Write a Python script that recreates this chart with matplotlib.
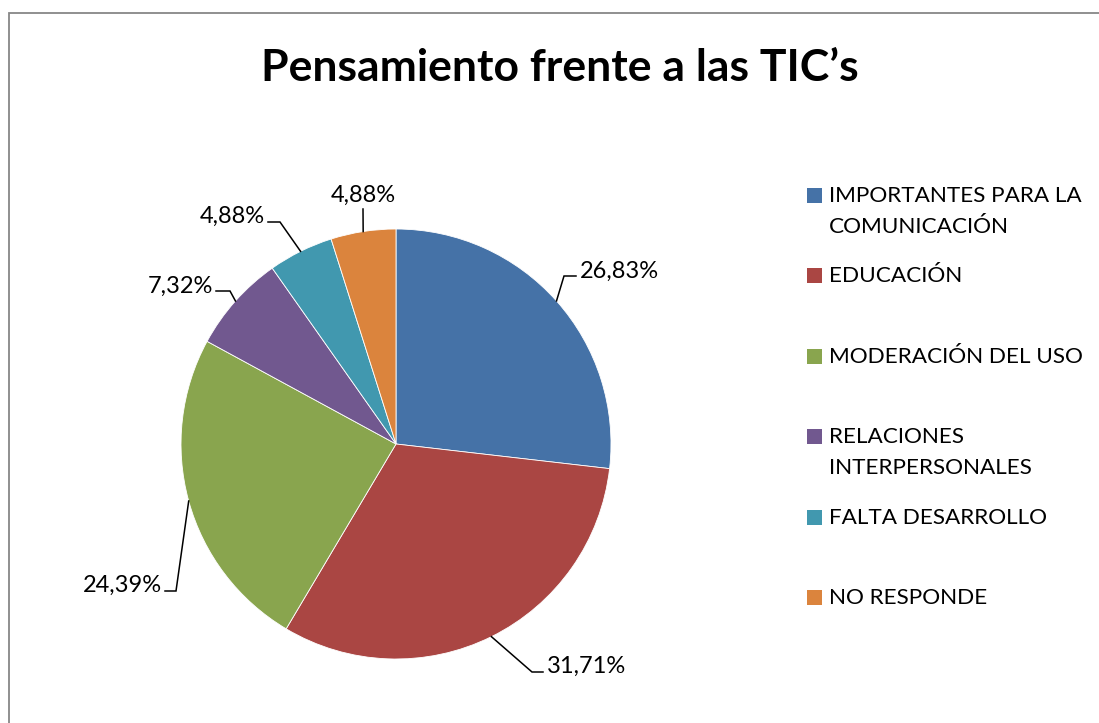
import matplotlib
matplotlib.use("Agg")
import matplotlib.pyplot as plt
from matplotlib.patches import Rectangle
import numpy as np

# data
categorias = ["IMPORTANTES PARA LA\nCOMUNICACIÓN", "EDUCACIÓN", "MODERACIÓN DEL USO",
              "RELACIONES\nINTERPERSONALES", "FALTA DESARROLLO", "NO RESPONDE"]
porcentajes = [26.83, 31.71, 24.39, 7.32, 4.88, 4.88]
colores = ["#4572A7", "#AA4643", "#89A54E", "#71588F", "#4198AF", "#DB843D"]

plt.rcParams['font.family'] = ['Lato', 'DejaVu Sans']

W, H = 1099, 723
fig = plt.figure(figsize=(W / 100, H / 100), dpi=100)

# pie geometry in pixels (center, radius)
cx, cy, R = 396, 444, 215
ax = fig.add_axes([(cx - R) / W, (H - cy - R) / H, 2 * R / W, 2 * R / H])
ax.axis('off')

wedges, _ = ax.pie(porcentajes, colors=colores, startangle=90, counterclock=False,
                   radius=1, center=(0, 0), frame=False,
                   wedgeprops=dict(linewidth=0.6, edgecolor='white'))
ax.set_xlim(-1, 1)
ax.set_ylim(-1, 1)

def px(x, y):
    return (x - cx) / R, (cy - y) / R

# label layout: elbow, stub end, text anchor (pixels), alignment
layout = [
    ((564, 276), (576, 276), (580, 271), 'left', 'center'),
    ((532, 672), (543, 672), (547, 666), 'left', 'center'),
    ((176, 591), (165, 591), (162, 585), 'right', 'center'),
    ((230, 291), (216, 291), (213, 286), 'right', 'center'),
    ((280, 222), (268, 222), (265, 216), 'right', 'center'),
    ((363, 209), (363, 209), (363, 206), 'center', 'bottom'),
]

for w, p, (elb, stub, txt, ha, va) in zip(wedges, porcentajes, layout):
    ang = np.deg2rad((w.theta1 + w.theta2) / 2)
    x0, y0 = np.cos(ang), np.sin(ang)
    ex, ey = px(*elb)
    sx, sy = px(*stub)
    ax.plot([x0, ex, sx], [y0, ey, sy], color='black', lw=1.1, clip_on=False,
            solid_joinstyle='miter')
    tx, ty = px(*txt)
    ax.text(tx, ty, f"{p:.2f}".replace('.', ',') + "%", ha=ha, va=va,
            fontsize=17, color='black', clip_on=False)

# title
fig.text(560 / W, 1 - 81 / H, "Pensamiento frente a las TIC’s", ha='center',
         va='baseline', fontsize=32, fontweight='bold', color='black')

# legend drawn by hand, entries top-aligned every ~80 px
for i, (lab, col) in enumerate(zip(categorias, colores)):
    top = 180 + i * 80.4
    fig.patches.append(Rectangle((807 / W, 1 - (top + 23) / H), 15 / W, 15 / H,
                                 transform=fig.transFigure, facecolor=col,
                                 edgecolor='none'))
    fig.text(829 / W, 1 - (top + 6) / H, lab, ha='left', va='top', fontsize=16.2,
             color='black', linespacing=1.7)

# outer border (cut off at right/bottom)
fig.patches.append(Rectangle((8.5 / W, -0.1), 1.2, 1 - 12.5 / H + 0.1,
                             transform=fig.transFigure, facecolor='none',
                             edgecolor='#878787', linewidth=1.3))

fig.savefig("out.png", dpi=100)
